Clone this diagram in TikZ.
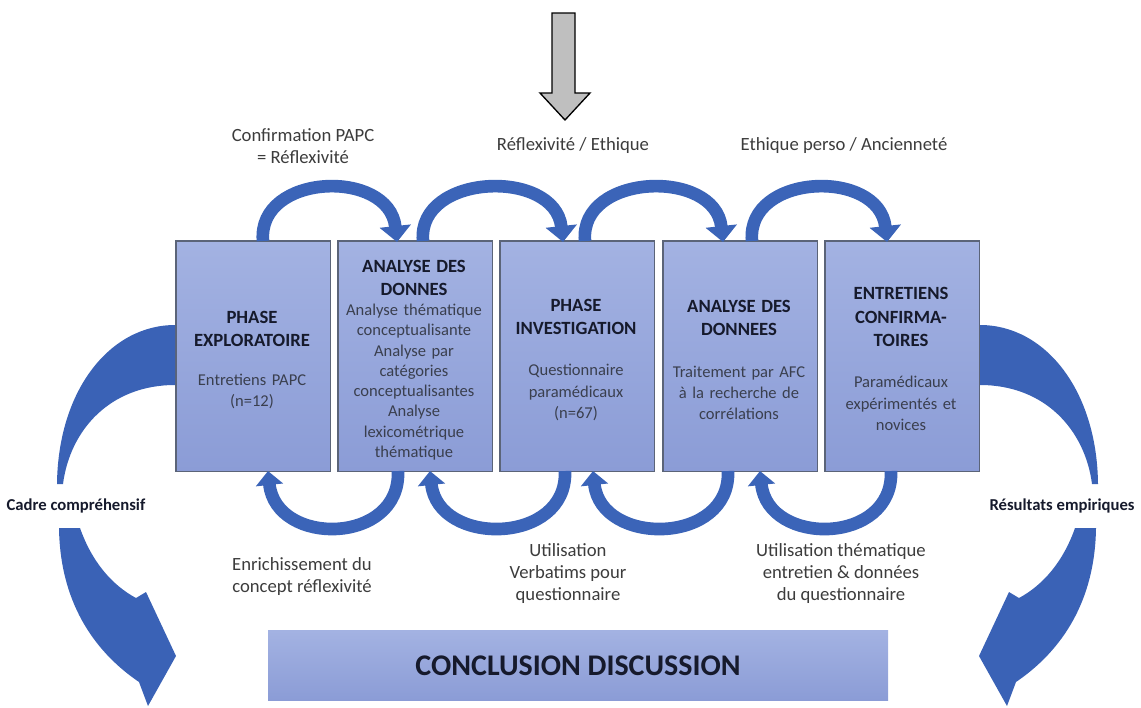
\documentclass[tikz,border=0pt]{standalone}
\usepackage{fontspec}
\setmainfont{Carlito}
\usetikzlibrary{arrows.meta,calc}
\definecolor{boxtop}{HTML}{A3B2E2}
\definecolor{boxbot}{HTML}{8B9CD6}
\definecolor{boxline}{HTML}{5B6478}
\definecolor{arcblue}{HTML}{3B64B8}
\definecolor{bigblue}{HTML}{3A62B6}
\definecolor{titlecol}{HTML}{161A2C}
\definecolor{bodycol}{HTML}{3A3F4E}
\definecolor{labelcol}{HTML}{3C3C3C}
\tikzset{
  phasebox/.style={draw=boxline, line width=1.3pt, top color=boxtop, bottom color=boxbot,
    minimum width=116pt, minimum height=173pt, inner sep=0pt, anchor=north west},
  boxtext/.style={align=center, text width=114pt, font=\fontsize{12.4}{16}\selectfont, text=bodycol},
  arclabel/.style={align=center, font=\fontsize{14}{16.5}\selectfont, text=labelcol},
  sidelabel/.style={font=\bfseries\fontsize{12.5}{14}\selectfont, text=titlecol},
  toparc/.style={draw=arcblue, line width=9.5pt, -{Triangle[width=23pt,length=12pt]}},
  botarc/.style={draw=arcblue, line width=9.5pt, -{Triangle[width=20pt,length=10.5pt]}},
}
\newcommand{\ttl}[1]{{\bfseries\fontsize{14}{17.5}\selectfont\color{titlecol}#1\par}}
\begin{document}
\begin{tikzpicture}[x=0.75pt,y=-0.75pt]
\useasboundingbox (0,0) rectangle (1141,707);
% grey arrow
\fill[gray!50!white, draw=black, line width=1pt]
  (552,13) -- (575,13) -- (575,93) -- (590,93) -- (565,120) -- (540,93) -- (552,93) -- cycle;
% boxes
\node[phasebox] (b1) at (175,240) {};
\node[phasebox] (b2) at (337,240) {};
\node[phasebox] (b3) at (499,240) {};
\node[phasebox] (b4) at (662,240) {};
\node[phasebox] (b5) at (824,240) {};
\node[boxtext] (t1) at (252,360) {\ttl{PHASE\\EXPLORATOIRE}\vspace{13pt}Entretiens PAPC\\(n=12)};
\node[boxtext, font=\fontsize{12.4}{15.2}\selectfont] (t2) at (414,360) {\ttl{ANALYSE DES\\DONNES}Analyse thématique\\conceptualisante\\Analyse par\\catégories\\conceptualisantes\\Analyse\\lexicométrique\\thématique};
\node[boxtext] (t3) at (576,360) {\ttl{PHASE\\INVESTIGATION}\vspace{15pt}Questionnaire\\paramédicaux\\(n=67)};
\node[boxtext] (t4) at (739,360) {\ttl{ANALYSE DES\\DONNEES}\vspace{15pt}Traitement par AFC\\à la recherche de\\corrélations};
\node[boxtext] (t5) at (901,359) {\ttl{ENTRETIENS\\CONFIRMA-\\TOIRES}\vspace{15pt}Paramédicaux\\expérimentés et\\novices};
% conclusion
\node[draw=none, top color=boxtop, bottom color=boxbot, minimum width=465pt, minimum height=52pt,
  inner sep=0pt] (concl) at (578,665.5) {\bfseries\fontsize{22.5}{24}\selectfont\color{titlecol}CONCLUSION DISCUSSION};
% top arcs
\coordinate (f1) at (263,241); \coordinate (h1) at (397,242);
\coordinate (f2) at (423,241); \coordinate (h2) at (563,242);
\coordinate (f3) at (585,241); \coordinate (h3) at (723,242);
\coordinate (f4) at (752,241); \coordinate (h4) at (887,242);
\foreach \f/\h in {f1/h1,f2/h2,f3/h3,f4/h4}{
  \draw[toparc] (\f) .. controls ($(\f)+(-6,-68)$) and ($(\h)+(-8,-74)$) .. (\h);
}
% bottom arcs
\coordinate (g1) at (398,471); \coordinate (k1) at (268,471);
\coordinate (g2) at (565,471); \coordinate (k2) at (430,471);
\coordinate (g3) at (728,471); \coordinate (k3) at (593,471);
\coordinate (g4) at (891,471); \coordinate (k4) at (760,471);
\foreach \g/\k in {g1/k1,g2/k2,g3/k3,g4/k4}{
  \draw[botarc] (\g) .. controls ($(\g)+(3,74)$) and ($(\k)+(8,76)$) .. (\k);
}
% big side arrows (left)
\fill[bigblue] (175,325) .. controls (110,325) and (58,390) .. (57,484)
  -- (63,484) .. controls (70,430) and (110,385) .. (175,385) -- cycle;
\fill[bigblue] (59,528) -- (80,528) .. controls (92,562) and (112,585) .. (136,598)
  -- (146,592) -- (176,656) -- (148,706) -- (139,682)
  .. controls (92,650) and (60,600) .. (59,528) -- cycle;
% right (mirror)
\begin{scope}[shift={(1155,0)}, xscale=-1]
\fill[bigblue] (175,325) .. controls (110,325) and (58,390) .. (57,484)
  -- (63,484) .. controls (70,430) and (110,385) .. (175,385) -- cycle;
\fill[bigblue] (59,528) -- (80,528) .. controls (92,562) and (112,585) .. (136,598)
  -- (146,592) -- (176,656) -- (148,706) -- (139,682)
  .. controls (92,650) and (60,600) .. (59,528) -- cycle;
\end{scope}
% labels
\node[arclabel] (l1) at (303,146) {Confirmation PAPC\\= Réflexivité};
\node[arclabel] (l2) at (573,146) {Réflexivité / Ethique};
\node[arclabel] (l3) at (844,146) {Ethique perso / Ancienneté};
\node[arclabel] (l4) at (302,577) {Enrichissement du\\concept réflexivité};
\node[arclabel] (l5) at (568,574) {Utilisation\\Verbatims pour\\questionnaire};
\node[arclabel] (l6) at (841,574) {Utilisation thématique\\entretien \& données\\du questionnaire};
\node[sidelabel] (s1) at (76,506) {Cadre compréhensif};
\node[sidelabel] (s2) at (1062,506) {Résultats empiriques};
\end{tikzpicture}
\end{document}
